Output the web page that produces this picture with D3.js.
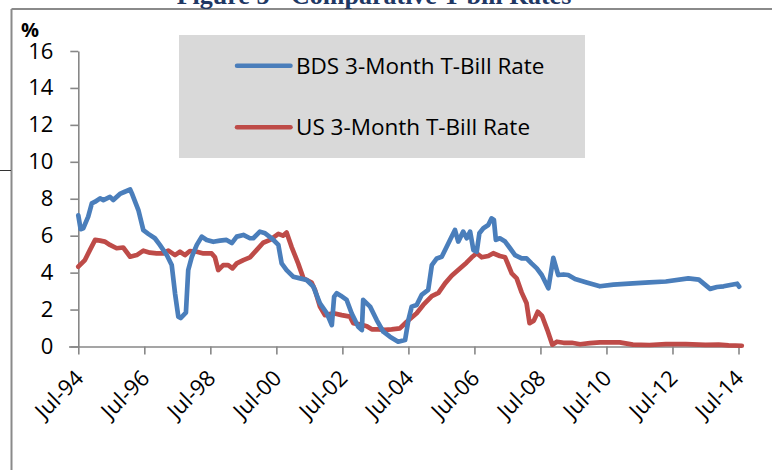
<!DOCTYPE html>
<html>
<head>
<meta charset="utf-8">
<script src="https://cdn.jsdelivr.net/npm/d3@7"></script>
<style>
  html, body { margin: 0; padding: 0; background: #ffffff; }
  svg { display: block; }
</style>
</head>
<body>
<svg id="chart" width="772" height="470"></svg>
<script>
// ---- Data (decimal years, percent) ----
const titleText = "Figure 5 - Comparative T-bill Rates";
const seriesNames = ["BDS 3-Month T-Bill Rate", "US 3-Month T-Bill Rate"];
const xTickYears = [1994.5, 1996.5, 1998.5, 2000.5, 2002.5, 2004.5, 2006.5, 2008.5, 2010.5, 2012.5, 2014.5];
const xTickLabels = ["Jul-94", "Jul-96", "Jul-98", "Jul-00", "Jul-02", "Jul-04", "Jul-06", "Jul-08", "Jul-10", "Jul-12", "Jul-14"];
const yTicks = [0, 2, 4, 6, 8, 10, 12, 14, 16];

const bdsDates = [1994.50, 1994.57, 1994.65, 1994.80, 1994.91, 1995.01, 1995.16, 1995.26, 1995.46, 1995.56,
  1995.76, 1995.91, 1996.07, 1996.12, 1996.32, 1996.47, 1996.62, 1996.82, 1996.97, 1997.18,
  1997.33, 1997.43, 1997.53, 1997.60, 1997.76, 1997.83, 1997.94, 1998.09, 1998.24, 1998.39,
  1998.59, 1998.79, 1998.99, 1999.15, 1999.30, 1999.50, 1999.70, 1999.80, 2000.00, 2000.16,
  2000.36, 2000.56, 2000.66, 2000.81, 2001.01, 2001.22, 2001.42, 2001.62, 2001.82, 2002.03,
  2002.18, 2002.25, 2002.33, 2002.45, 2002.63, 2002.78, 2002.98, 2003.09, 2003.13, 2003.34,
  2003.54, 2003.74, 2003.94, 2004.19, 2004.40, 2004.50, 2004.60, 2004.75, 2004.90, 2005.10,
  2005.21, 2005.36, 2005.51, 2005.66, 2005.76, 2005.91, 2006.01, 2006.16, 2006.27, 2006.37,
  2006.47, 2006.57, 2006.65, 2006.77, 2006.92, 2007.02, 2007.09, 2007.15, 2007.27, 2007.43,
  2007.58, 2007.73, 2007.93, 2008.08, 2008.23, 2008.39, 2008.54, 2008.74, 2008.89, 2009.04,
  2009.20, 2009.34, 2009.55, 2009.90, 2010.30, 2010.71, 2011.30, 2011.80, 2012.30, 2012.98,
  2013.30, 2013.64, 2013.85, 2014.05, 2014.25, 2014.46, 2014.52];
const bdsValues = [7.1, 6.35, 6.4, 7.03, 7.75, 7.84, 8.02, 7.93, 8.1, 7.93,
  8.26, 8.38, 8.5, 8.3, 7.39, 6.3, 6.1, 5.86, 5.5, 4.95,
  4.41, 2.88, 1.61, 1.54, 1.83, 4.14, 4.86, 5.5, 5.95, 5.77,
  5.67, 5.73, 5.77, 5.6, 5.95, 6.04, 5.86, 5.86, 6.22, 6.13,
  5.86, 5.5, 4.5, 4.14, 3.78, 3.69, 3.6, 3.24, 2.34, 1.8,
  1.16, 2.7, 2.88, 2.75, 2.52, 1.8, 1.07, 0.89, 2.52, 2.16,
  1.43, 0.8, 0.53, 0.26, 0.35, 1.43, 2.16, 2.25, 2.79, 3.06,
  4.41, 4.77, 4.86, 5.4, 5.77, 6.31, 5.68, 6.22, 5.86, 6.22,
  5.22, 5.13, 6.13, 6.4, 6.58, 6.94, 6.85, 5.77, 5.86, 5.68,
  5.32, 4.95, 4.77, 4.77, 4.5, 4.23, 3.87, 3.15, 4.8, 3.87,
  3.9, 3.87, 3.65, 3.46, 3.26, 3.35, 3.42, 3.47, 3.52, 3.69,
  3.62, 3.12, 3.22, 3.26, 3.33, 3.4, 3.24];

const usDates = [1994.50, 1994.70, 1994.85, 1995.01, 1995.16, 1995.30, 1995.46, 1995.66, 1995.86, 1996.07,
  1996.27, 1996.47, 1996.67, 1996.87, 1997.07, 1997.23, 1997.43, 1997.58, 1997.73, 1997.88,
  1998.09, 1998.29, 1998.54, 1998.64, 1998.74, 1998.89, 1999.04, 1999.17, 1999.30, 1999.50,
  1999.70, 1999.90, 2000.10, 2000.31, 2000.56, 2000.70, 2000.81, 2000.96, 2001.16, 2001.32,
  2001.57, 2001.67, 2001.82, 2001.97, 2002.23, 2002.48, 2002.73, 2002.83, 2003.03, 2003.24,
  2003.39, 2003.59, 2003.79, 2003.99, 2004.24, 2004.45, 2004.75, 2004.95, 2005.21, 2005.41,
  2005.61, 2005.81, 2006.06, 2006.26, 2006.42, 2006.57, 2006.72, 2006.92, 2007.07, 2007.27,
  2007.43, 2007.63, 2007.78, 2007.93, 2008.08, 2008.17, 2008.30, 2008.42, 2008.55, 2008.71,
  2008.86, 2009.00, 2009.20, 2009.45, 2009.70, 2010.00, 2010.30, 2010.90, 2011.30, 2011.80,
  2012.30, 2012.90, 2013.50, 2013.90, 2014.20, 2014.60];
const usValues = [4.32, 4.68, 5.22, 5.77, 5.73, 5.68, 5.5, 5.32, 5.36, 4.86,
  4.95, 5.19, 5.08, 5.04, 5.04, 5.19, 4.95, 5.13, 4.95, 5.17,
  5.13, 5.04, 5.04, 4.83, 4.14, 4.41, 4.41, 4.23, 4.5, 4.68,
  4.83, 5.22, 5.62, 5.77, 6.1, 6.0, 6.17, 5.4, 4.5, 3.69,
  3.46, 3.06, 2.16, 1.7, 1.8, 1.7, 1.62, 1.26, 1.2, 1.1,
  0.93, 0.93, 0.9, 0.93, 0.98, 1.34, 1.8, 2.25, 2.73, 2.9,
  3.42, 3.83, 4.23, 4.54, 4.83, 5.05, 4.83, 4.9, 5.05, 4.9,
  4.83, 3.96, 3.69, 2.93, 2.34, 1.26, 1.4, 1.88, 1.65, 0.89,
  0.1, 0.26, 0.2, 0.2, 0.12, 0.18, 0.22, 0.22, 0.1, 0.08,
  0.13, 0.13, 0.09, 0.1, 0.06, 0.04];

// ---- Layout ----
const colors = ["#4a7ebb", "#be4b48"];
const axisColor = "#878787";
const svg = d3.select("#chart");

const x = d3.scaleLinear().domain([1994.5, 2014.5]).range([78.3, 738.5]);
const y = d3.scaleLinear().domain([0, 16]).range([346.5, 51]);

// frame
svg.append("line").attr("x1", 11.5).attr("x2", 772).attr("y1", 9).attr("y2", 9)
  .attr("stroke", "#8a8a8a").attr("stroke-width", 2);
svg.append("line").attr("x1", 11.5).attr("x2", 11.5).attr("y1", 9).attr("y2", 470)
  .attr("stroke", "#8a8a8a").attr("stroke-width", 2);
svg.append("line").attr("x1", 0).attr("x2", 11).attr("y1", 170.5).attr("y2", 170.5)
  .attr("stroke", "#333333").attr("stroke-width", 1);

// title (clipped at top like the source)
svg.append("text").attr("x", 374).attr("y", 4)
  .attr("text-anchor", "middle")
  .attr("font-family", "Liberation Serif, Times New Roman, serif")
  .attr("font-weight", "bold").attr("font-size", 26)
  .attr("fill", "#1f3864").text(titleText);

// legend
const legend = svg.append("g");
legend.append("rect").attr("x", 179).attr("y", 35).attr("width", 406).attr("height", 123)
  .attr("fill", "#d9d9d9");
const legendY = [65.7, 127.3];
seriesNames.forEach((name, i) => {
  legend.append("line").attr("x1", 237).attr("x2", 290.5)
    .attr("y1", legendY[i]).attr("y2", legendY[i])
    .attr("stroke", colors[i]).attr("stroke-width", 4.5).attr("stroke-linecap", "round");
  legend.append("text").attr("x", 296).attr("y", legendY[i] + 7.8)
    .attr("font-family", "Open Sans, sans-serif").attr("font-size", 22.5)
    .attr("fill", "#000").text(name);
});

// y axis
const yAxis = svg.append("g").attr("transform", `translate(${x(1994.5)},0)`)
  .call(d3.axisLeft(y).tickValues(yTicks).tickSize(8).tickSizeOuter(0).tickPadding(17));
yAxis.select(".domain").attr("stroke", axisColor).attr("stroke-width", 1.6);
yAxis.selectAll(".tick line").attr("stroke", axisColor).attr("stroke-width", 1.6);
yAxis.selectAll(".tick text").attr("font-family", "Open Sans, sans-serif")
  .attr("font-size", 22).attr("fill", "#000");

// % label
svg.append("text").attr("x", 21).attr("y", 36.5)
  .attr("font-family", "Open Sans, sans-serif").attr("font-weight", "bold")
  .attr("font-size", 20).attr("fill", "#000").text("%");

// x axis
const xAxis = svg.append("g").attr("transform", `translate(0,${y(0)})`)
  .call(d3.axisBottom(x).tickValues(xTickYears).tickSize(8).tickSizeOuter(0)
    .tickFormat((d, i) => xTickLabels[i]));
xAxis.select(".domain").attr("stroke", axisColor).attr("stroke-width", 1.6)
  .attr("d", `M69,0.5H${x(2014.6)}`);
xAxis.selectAll(".tick line").attr("stroke", axisColor).attr("stroke-width", 1.6);
xAxis.selectAll(".tick text")
  .attr("font-family", "Open Sans, sans-serif").attr("font-size", 22).attr("fill", "#000")
  .attr("text-anchor", "end").attr("dy", null)
  .attr("transform", "translate(6,33) rotate(-45)").attr("y", 0).attr("x", 0);

// lines
const line = d3.line().x(d => x(d[0])).y(d => y(d[1]));
const seriesData = [
  d3.zip(bdsDates, bdsValues),
  d3.zip(usDates, usValues)
];
[1, 0].forEach(i => {
  svg.append("path").datum(seriesData[i])
    .attr("d", line)
    .attr("fill", "none")
    .attr("stroke", colors[i])
    .attr("stroke-width", 4.7)
    .attr("stroke-linejoin", "round")
    .attr("stroke-linecap", "round");
});
</script>
</body>
</html>
